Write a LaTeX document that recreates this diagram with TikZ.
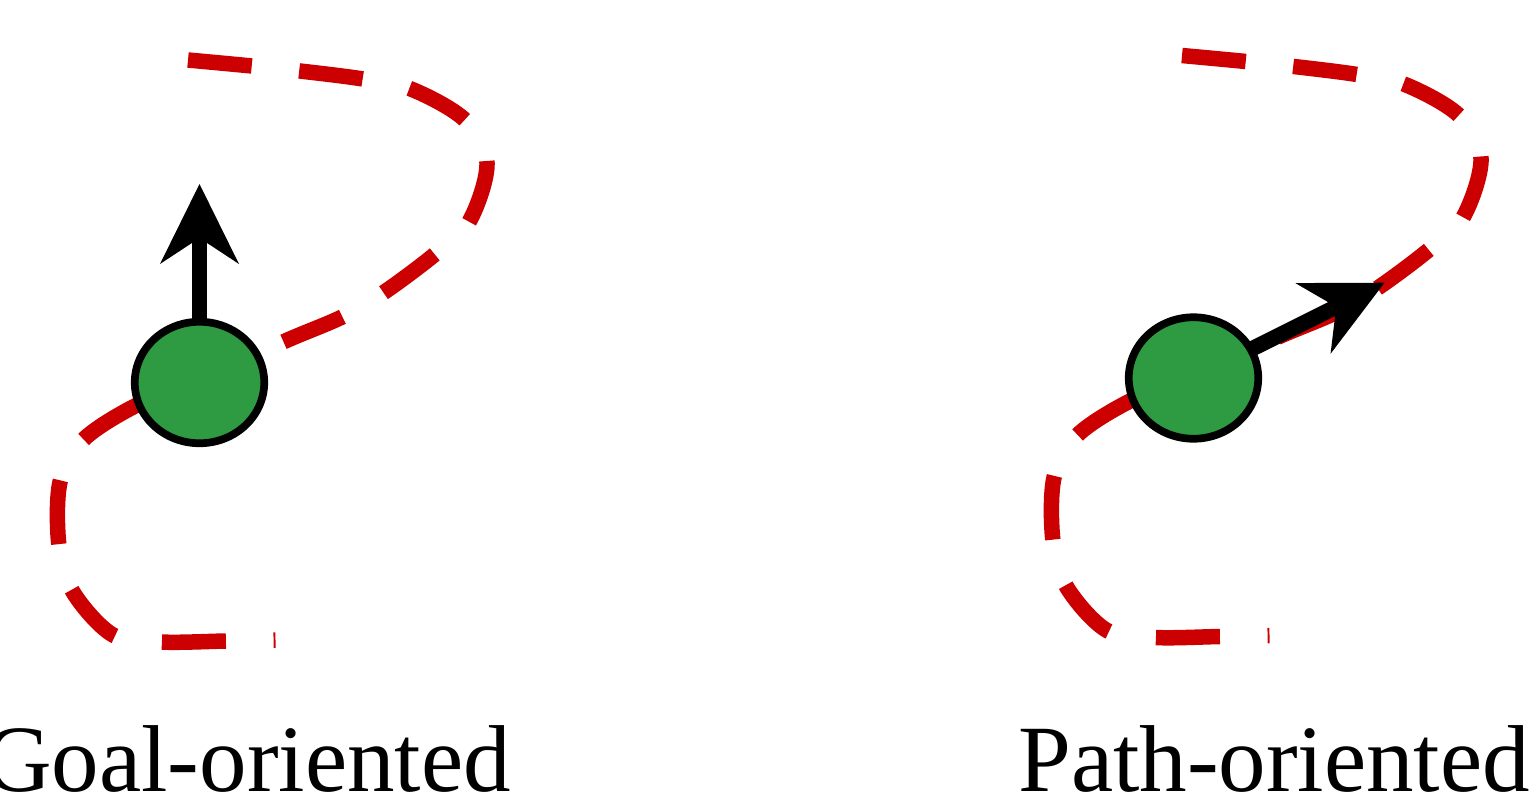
\documentclass[tikz,border=0pt]{standalone}
\usepackage{fontspec}
\setmainfont{Liberation Serif}
\usetikzlibrary{arrows.meta,shapes.geometric}

\definecolor{trackred}{RGB}{204,0,0}
\definecolor{robotgreen}{RGB}{46,154,66}

\tikzset{
  trackline/.style={draw=trackred, line width=15.5pt, dash pattern=on 64pt off 47.7pt},
  robot/.style={ellipse, draw=black, line width=7.7pt, fill=robotgreen,
    inner sep=0pt, outer sep=0pt, minimum width=129.5pt, minimum height=121.5pt},
  heading/.style={draw=black, line width=15.5pt,
    -{Stealth[length=80pt, width=79pt, inset=26pt, line width=0pt]}},
  caption/.style={inner sep=0pt, font=\fontsize{95}{100}\selectfont},
  % reference trajectory: an S-shaped loop through the robot position
  pics/track/.style={code={
    \draw[trackline] plot[smooth, tension=0.55] coordinates {
      (188,60) (252,66) (300,71) (363,79) (411,89) (465,120) (487,163)
      (469,222) (434,255) (383,293) (342,317) (283,342) (199,381)
      (137,405) (83,440) (60,482) (59,546) (73,592) (113,635)
      (161,642) (226,641) (275.5,640)};
  }}
}

\begin{document}
\begin{tikzpicture}[x=1pt, y=-1pt]
  \useasboundingbox (0,0) rectangle (1538,796);

  % goal-oriented heading: arrow points straight up
  \pic {track};
  \coordinate (g1) at (199.5,382.5);
  \coordinate (g1tip) at (199.5,184);
  \draw[heading] (g1) -- (g1tip);
  \node[robot] (r1) at (g1) {};
  \node[caption, anchor=base east] (l1) at (511,791.5) {Goal-oriented};

  % path-oriented heading: arrow follows the tangent of the trajectory
  \begin{scope}[shift={(994,-4.5)}]
    \pic {track};
  \end{scope}
  \coordinate (g2) at (1193.5,378);
  \coordinate (g2tip) at (1384.5,282.7);
  \draw[heading] (g2) -- (g2tip);
  \node[robot] (r2) at (g2) {};
  \node[caption, anchor=base west] (l2) at (1018,791.5) {Path-oriented};
\end{tikzpicture}
\end{document}
